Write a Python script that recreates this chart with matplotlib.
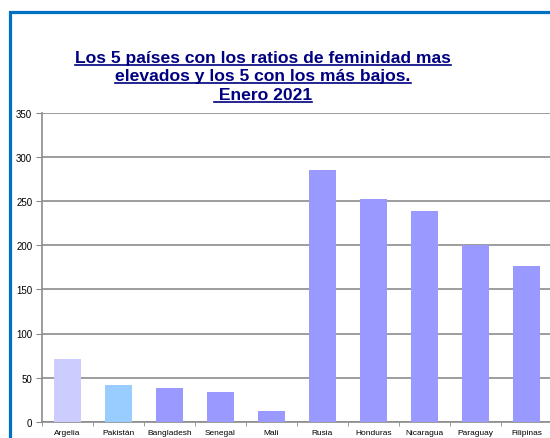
import matplotlib.pyplot as plt
from matplotlib.lines import Line2D
from matplotlib.patches import Rectangle
import numpy as np

# Data
countries = ['Argelia', 'Pakistán', 'Bangladesh', 'Senegal', 'Mali',
             'Rusia', 'Honduras', 'Nicaragua', 'Paraguay', 'Filipinas']
ratios = [71, 42, 38, 34, 12, 285, 253, 239, 200, 177]
bar_colors = ['#CCCCFF', '#99CCFF'] + ['#9999FF'] * 8
title_lines = ['Los 5 países con los ratios de feminidad mas',
               'elevados y los 5 con los más bajos.',
               ' Enero 2021']
y_ticks = [0, 50, 100, 150, 200, 250, 300, 350]


def main():
    plt.rcParams['font.family'] = ['Liberation Sans', 'DejaVu Sans']

    fig = plt.figure(figsize=(5.5, 4.39), dpi=100)
    W, H = 550, 439

    # Blue frame around the chart area (runs off right and bottom edges)
    fig.patches.append(Rectangle((9.5 / W, -0.05), 1.2, (H - 12.5) / H + 0.05,
                                 transform=fig.transFigure, fill=False,
                                 edgecolor='#0070C0', linewidth=2.3))

    ax = fig.add_axes([42 / W, (H - 422.7) / H, 510 / W, (422.7 - 114) / H])
    x = np.arange(len(countries))
    ax.bar(x, ratios, width=0.52, color=bar_colors, zorder=3)

    ax.set_xlim(-0.5, len(countries) - 0.5)
    ax.set_ylim(0, 350)
    ax.set_yticks(y_ticks)
    ax.yaxis.grid(True, color='#8C8C8C', linewidth=1.2, zorder=0)
    ax.set_axisbelow(True)

    # Category labels between tick marks
    ax.set_xticks(x)
    ax.set_xticklabels(countries, fontsize=6)
    ax.tick_params(axis='x', length=0, pad=5)
    ax.set_xticks(np.arange(-0.5, len(countries)), minor=True)
    ax.tick_params(axis='x', which='minor', length=3, color='#8C8C8C')
    ax.tick_params(axis='y', labelsize=7, length=4, color='#8C8C8C', pad=3)

    for side in ['top', 'right']:
        ax.spines[side].set_visible(False)
    for side in ['left', 'bottom']:
        ax.spines[side].set_color('#8C8C8C')
        ax.spines[side].set_linewidth(1.2)

    # Title lines, underlined by hand
    renderer = fig.canvas.get_renderer()
    line_y = [62.5, 81, 99.5]
    for txt, yb in zip(title_lines, line_y):
        t = fig.text(263 / W, (H - yb) / H, txt, ha='center', va='baseline',
                     fontsize=12.6, fontweight='bold', color='#000080')
        bb = t.get_window_extent(renderer)
        uy = (H - yb - 3) / H
        fig.add_artist(Line2D([bb.x0 / W, bb.x1 / W], [uy, uy],
                              transform=fig.transFigure, color='#000080',
                              linewidth=1.2))

    plt.savefig('out.png', dpi=100)


if __name__ == "__main__":
    main()
